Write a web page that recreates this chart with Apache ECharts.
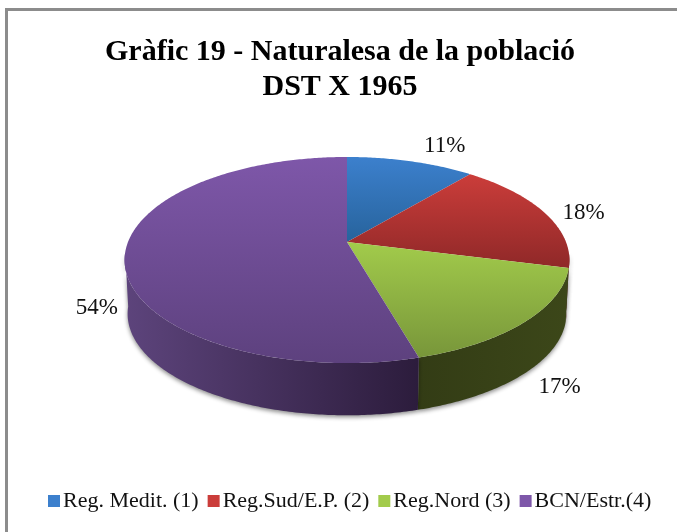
<!DOCTYPE html>
<html><head><meta charset="utf-8">
<style>html,body{margin:0;padding:0;background:#fff}#c{width:677px;height:532px}</style>
<script src="https://cdn.jsdelivr.net/npm/echarts@6/dist/echarts.min.js"></script>
</head><body><div id="c"></div>
<script>
const categories = ['Reg. Medit. (1)', 'Reg.Sud/E.P. (2)', 'Reg.Nord (3)', 'BCN/Estr.(4)'];
const values = [11, 18, 16.6, 54.4];
const titleLines = ['Gràfic 19 - Naturalesa de la població', 'DST X 1965'];

const topColors = [['#3c80cd', '#27639c'], ['#cb3d3a', '#8f2828'], ['#a2cb4b', '#78963a'], ['#7e57a9', '#5d417e']];
const sideColors = [['#2a5a8c', '#1f4368'], ['#7a2423', '#5e1b1b'], ['#3c4719', '#333c15'], ['#5d447c', '#2c1c3c']];
const labelOffsets = [[34, -15], [39, 0], [34, 65], [-28, 52]];
const SERIF = '"Liberation Serif", serif';

// projected disc geometry
const topPlane = {x0: 347, y0: 242, A: 219, B: 99.9, k: 0.175};
const basePlane = {x0: 347, y0: 296, A: 216, B: 98.4, k: 0.175};
function project(p, deg) {
  const t = deg * Math.PI / 180, u = Math.sin(t), v = Math.cos(t), w = 1 + p.k * v;
  return [p.x0 + p.A * u / w, p.y0 - p.B * v / w];
}
function arc(p, a, b) {
  const pts = [], n = Math.max(2, Math.ceil(Math.abs(b - a) * 1.5));
  for (let i = 0; i <= n; i++) pts.push(project(p, a + (b - a) * i / n));
  return pts;
}
const total = values.reduce((s, v) => s + v, 0);
function range(i) {
  const before = values.slice(0, i).reduce((s, v) => s + v, 0);
  return [before / total * 360, (before + values[i]) / total * 360];
}
function vGrad(c) {
  return new echarts.graphic.LinearGradient(0, 0, 0, 1, [{offset: 0, color: c[0]}, {offset: 1, color: c[1]}]);
}
function hGrad(c) {
  return new echarts.graphic.LinearGradient(0, 0, 1, 0, [{offset: 0, color: c[0]}, {offset: 1, color: c[1]}]);
}
function renderSlice(i) {
  return function () {
    const [a, b] = range(i);
    const children = [];
    const sa = Math.max(a, 96), sb = Math.min(b, 264);
    if (sb > sa) {
      children.push({type: 'polygon', shape: {points: arc(topPlane, sa, sb).concat(arc(basePlane, sb, sa))},
        style: {fill: hGrad(i === 3 ? sideColors[3] : sideColors[i].slice().reverse()),
          shadowBlur: 4, shadowColor: 'rgba(0,0,0,0.45)', shadowOffsetY: 2}});
    }
    children.push({type: 'polygon', shape: {points: [[topPlane.x0, topPlane.y0]].concat(arc(topPlane, a, b))},
      style: {fill: vGrad(topColors[i])}});
    const e = project(topPlane, (a + b) / 2);
    children.push({type: 'text', x: e[0] + labelOffsets[i][0], y: e[1] + labelOffsets[i][1], z2: 10,
      style: {text: Math.round(values[i] / total * 100) + '%', font: '23px ' + SERIF, fill: '#111',
        align: 'center', verticalAlign: 'middle'}});
    return {type: 'group', children};
  };
}
const chart = echarts.init(document.getElementById('c'), null, {renderer: 'canvas'});
chart.setOption({
  animation: false,
  backgroundColor: '#fff',
  title: {text: titleLines.join('\n'), left: 335, top: 30, textAlign: 'center',
    textStyle: {fontFamily: SERIF, fontWeight: 'bold', fontSize: 30, lineHeight: 35, color: '#000', align: 'center'}},
  legend: {top: 485, left: 43, itemWidth: 12, itemHeight: 12, itemGap: 9,
    icon: 'rect', data: categories,
    textStyle: {fontFamily: SERIF, fontSize: 22, color: '#111', padding: [0, 0, 0, -2]}},
  graphic: [{type: 'rect', z: -1, shape: {x: 6.5, y: 9.5, width: 720, height: 560},
    style: {fill: '#fff', stroke: '#8c8c8c', lineWidth: 3}}],
  series: categories.map((name, i) => ({
    type: 'custom', name, coordinateSystem: 'none', silent: true,
    itemStyle: {color: topColors[i][0]},
    data: [values[i]], renderItem: renderSlice(i)
  }))
});
</script></body></html>
